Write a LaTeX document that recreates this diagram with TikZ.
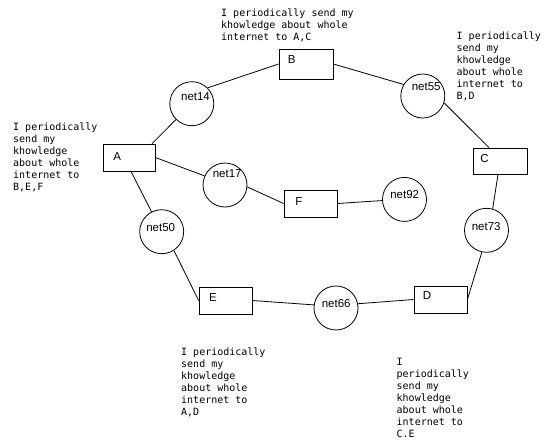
\documentclass[tikz,border=0pt]{standalone}
\usepackage{fontspec}
\setmainfont{Liberation Sans}
\newfontfamily\monof{DejaVu Sans Mono}
\begin{document}
\begin{tikzpicture}[x=1pt,y=-1pt,
  conn/.style={draw=black, line width=0.8pt},
  box/.style={draw, line width=0.8pt, rectangle, inner sep=0pt},
  net/.style={draw, circle, line width=0.8pt, minimum size=44pt, inner sep=0pt},
  lbl/.style={inner sep=0pt, font=\fontsize{11.5}{13}\selectfont},
  note/.style={inner sep=0pt, anchor=base west, font=\monof\fontsize{10}{12}\selectfont}]
\useasboundingbox (0,0) rectangle (552,440);

% routers
\node[box, minimum width=52pt, minimum height=27pt] (A) at (129,157.5) {};
\node[box, minimum width=54pt, minimum height=30pt] (B) at (306,64) {};
\node[box, minimum width=54pt, minimum height=26pt] (C) at (500,161) {};
\node[box, minimum width=53pt, minimum height=27pt] (F) at (310.5,203.5) {};
\node[box, minimum width=53pt, minimum height=27pt] (E) at (225.5,300.5) {};
\node[box, minimum width=53pt, minimum height=27pt] (D) at (440.5,299.5) {};
\node[lbl] (lA) at (117.3,156.7) {A};
\node[lbl] (lB) at (291.7,59.2) {B};
\node[lbl] (lC) at (484.5,158.8) {C};
\node[lbl] (lF) at (299,201.5) {F};
\node[lbl] (lE) at (213,297.2) {E};
\node[lbl] (lD) at (427,295.5) {D};

% networks
\node[net] (n14) at (191.8,103.7) {};
\node[net] (n50) at (161.7,231.7) {};
\node[net] (n55) at (422.8,96) {};
\node[net] (n73) at (486.5,230.3) {};
\node[net] (n17) at (225,185) {};
\node[net] (n92) at (404.5,199.4) {};
\node[net] (n66) at (336,308) {};
\node[lbl] (t14) at (195.5,96.7) {net14};
\node[lbl] (t50) at (160.7,227.5) {net50};
\node[lbl] (t55) at (426.2,86.2) {net55};
\node[lbl] (t73) at (486.2,226.2) {net73};
\node[lbl] (t17) at (227.2,173.8) {net17};
\node[lbl] (t92) at (404.7,195) {net92};
\node[lbl] (t66) at (336.2,303.8) {net66};

% links
\draw[conn] ([xshift=23pt]A.north) -- (n14);
\draw[conn] (n14.45) -- (B.west);
\draw[conn] (B.east) -- (n55.149);
\draw[conn] (n55.-18) -- ([xshift=-11pt]C.north);
\draw[conn] ([xshift=-2pt]C.south) -- (n73.74);
\draw[conn] (n73.-102) -- (D.east);
\draw[conn] (D.west) -- (n66.11);
\draw[conn] (n66.172) -- (E.east);
\draw[conn] (E.west) -- (n50.-57);
\draw[conn] (n50.117) -- ([xshift=2pt]A.south);
\draw[conn] (A.east) -- (n17.156);
\draw[conn] (n17.-5) -- (F.west);
\draw[conn] (F.east) -- (n92.183);

% notes
\node[note] (noteA) at (13,130) {\begin{tabular}[t]{@{}l@{}}I periodically\\send my\\khowledge\\about whole\\internet to\\B,E,F\end{tabular}};
\node[note] (noteB) at (221,16.5) {\begin{tabular}[t]{@{}l@{}}I periodically send my\\khowledge about whole\\internet to A,C\end{tabular}};
\node[note] (noteC) at (456.5,39.5) {\begin{tabular}[t]{@{}l@{}}I periodically\\send my\\khowledge\\about whole\\internet to\\B,D\end{tabular}};
\node[note] (noteE) at (181,355) {\begin{tabular}[t]{@{}l@{}}I periodically\\send my\\khowledge\\about whole\\internet to\\A,D\end{tabular}};
\node[note] (noteD) at (396.5,365) {\begin{tabular}[t]{@{}l@{}}I\\periodically\\send my\\khowledge\\about whole\\internet to\\C.E\end{tabular}};
\end{tikzpicture}
\end{document}
